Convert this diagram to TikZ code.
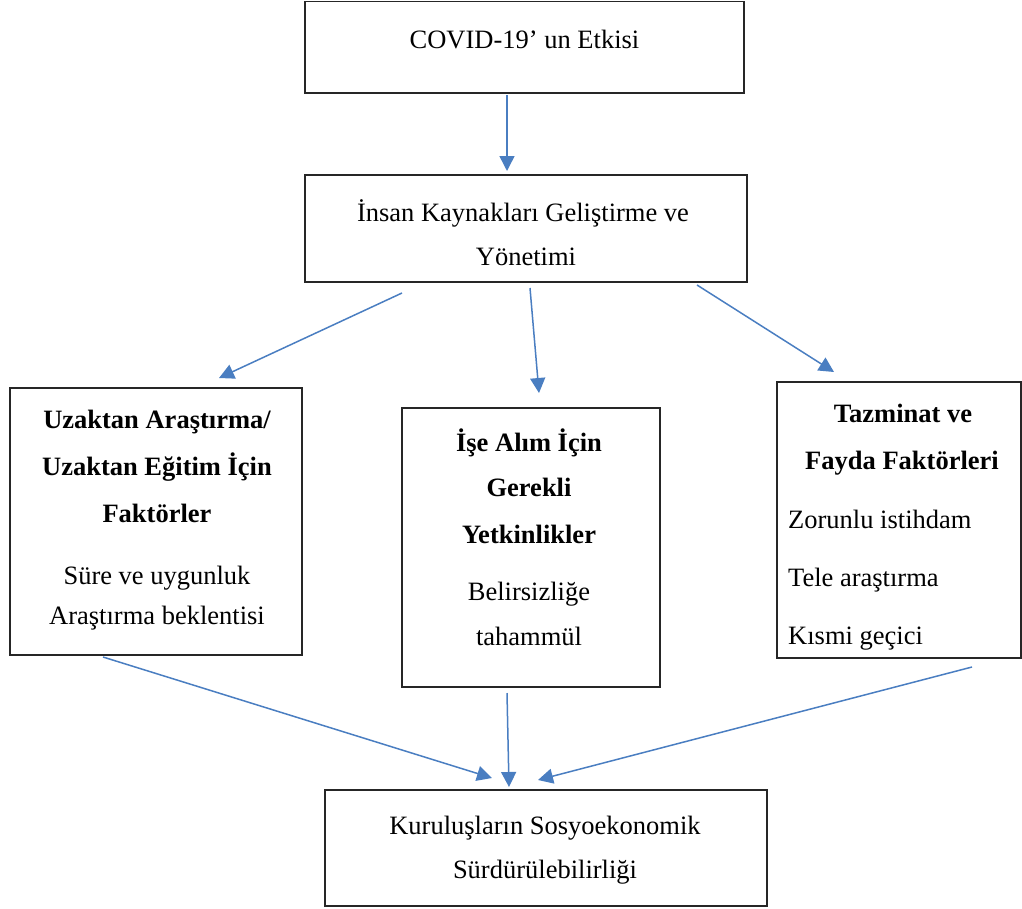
\documentclass[tikz,border=0pt]{standalone}
\usepackage{fontspec}
\setmainfont{Liberation Serif}
\usetikzlibrary{arrows.meta}
\definecolor{arrowblue}{RGB}{74,126,193}
\tikzset{
  box/.style={draw=black!85, line width=1.4pt, inner sep=0pt, outer sep=0pt, fill=none},
  txt/.style={font=\fontsize{26.5}{30}\selectfont, inner sep=0pt, anchor=base},
  btxt/.style={txt, font=\fontsize{26.5}{30}\selectfont\bfseries},
  ltxt/.style={txt, anchor=base west},
  conn/.style={draw=arrowblue, line width=1.5pt, -{Triangle[length=15pt,width=15pt]}}
}
\begin{document}
\begin{tikzpicture}[x=1pt,y=-1pt]
\useasboundingbox (0,0) rectangle (1022,908);
% boxes
\node[box, minimum width=439pt, minimum height=91.5pt] (b1) at (524.5,47.25) {};
\node[box, minimum width=442pt, minimum height=107pt] (b2) at (526,228.5) {};
\node[box, minimum width=292pt, minimum height=267pt] (b3) at (156,521.5) {};
\node[box, minimum width=258pt, minimum height=279pt] (b4) at (531,547.5) {};
\node[box, minimum width=244pt, minimum height=276pt] (b5) at (899,520) {};
\node[box, minimum width=442pt, minimum height=116pt] (b6) at (546,848) {};
% texts
\node[txt] (t1) at (524.5,48) {COVID-19’ un Etkisi};
\node[txt] (t2a) at (523,221) {İnsan Kaynakları Geliştirme ve};
\node[txt] (t2b) at (526,265) {Yönetimi};
\node[btxt] (t3a) at (157,428) {Uzaktan Araştırma/};
\node[btxt] (t3b) at (157,475) {Uzaktan Eğitim İçin};
\node[btxt] (t3c) at (157,522) {Faktörler};
\node[txt] (t3d) at (157,584) {Süre ve uygunluk};
\node[txt] (t3e) at (157,624) {Araştırma beklentisi};
\node[btxt] (t4a) at (529,451) {İşe Alım İçin};
\node[btxt] (t4b) at (529,496) {Gerekli};
\node[btxt] (t4c) at (529,543) {Yetkinlikler};
\node[txt] (t4d) at (529,600) {Belirsizliğe};
\node[txt] (t4e) at (529,645) {tahammül};
\node[btxt] (t5a) at (903,422) {Tazminat ve};
\node[btxt] (t5b) at (902,469) {Fayda Faktörleri};
\node[ltxt] (t5c) at (788,528) {Zorunlu istihdam};
\node[ltxt] (t5d) at (788,586) {Tele araştırma};
\node[ltxt] (t5e) at (788,644) {Kısmi geçici};
\node[txt] (t6a) at (545,834) {Kuruluşların Sosyoekonomik};
\node[txt] (t6b) at (545,878) {Sürdürülebilirliği};
% connector ends
\coordinate (a1s) at (507,95);  \coordinate (a1e) at (507,171);
\coordinate (a2s) at (402,293); \coordinate (a2e) at (219,378);
\coordinate (a3s) at (530,288); \coordinate (a3e) at (539,393);
\coordinate (a4s) at (697,285); \coordinate (a4e) at (834,372);
\coordinate (a5s) at (103,657); \coordinate (a5e) at (492,778);
\coordinate (a6s) at (507,693); \coordinate (a6e) at (509,787);
\coordinate (a7s) at (972,667); \coordinate (a7e) at (538,780);
\draw[conn] (a1s) -- (a1e);
\draw[conn] (a2s) -- (a2e);
\draw[conn] (a3s) -- (a3e);
\draw[conn] (a4s) -- (a4e);
\draw[conn] (a5s) -- (a5e);
\draw[conn] (a6s) -- (a6e);
\draw[conn] (a7s) -- (a7e);
\end{tikzpicture}
\end{document}
